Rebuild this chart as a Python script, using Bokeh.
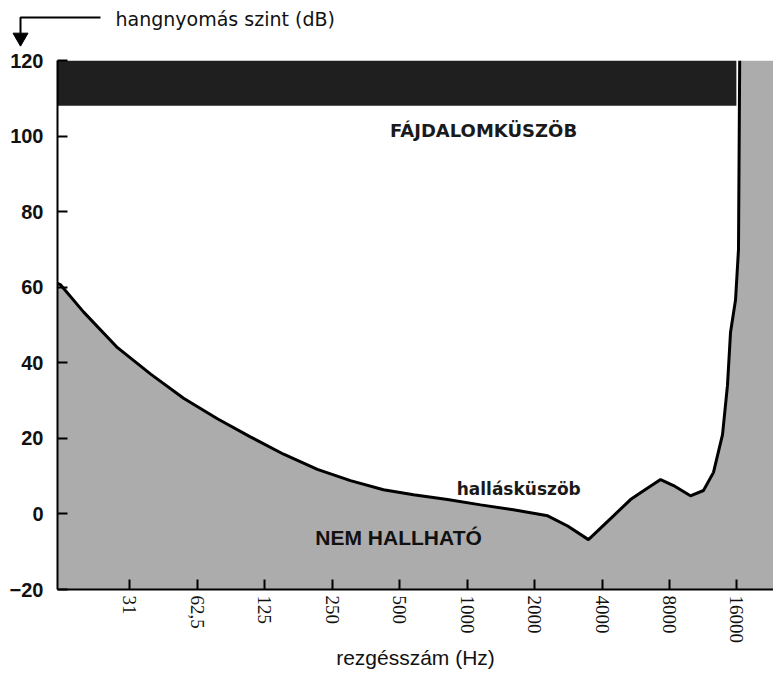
from bokeh.plotting import figure
from bokeh.layouts import column, row
from bokeh.models import FixedTicker, Label, Range1d
from bokeh.core.properties import value
from bokeh.embed import file_html
from bokeh.resources import INLINE

# ---- data ----
freq_hz = [14.9, 15.4, 19.5, 27.6, 38.8, 54.4, 77, 108, 152, 215, 302, 424, 577, 818,
           1150, 1610, 2290, 2810, 3480, 4500, 5360, 5940, 7300, 8340, 9920, 11340,
           12570, 13790, 14510, 14970, 15760, 16250, 16450]
threshold_db = [61, 60.6, 53.4, 44, 37, 30.6, 25.2, 20.4, 15.8, 11.8, 8.8, 6.4, 5.1, 3.8,
                2.4, 1.1, -0.5, -3.2, -6.8, -0.5, 3.8, 5.6, 9.1, 7.5, 4.8, 6.2,
                11, 21, 34, 48, 56.6, 70, 120]
pain_low_db = 108
pain_high_db = 120
pain_end_hz = 15900
tick_hz = [31.25, 62.5, 125, 250, 500, 1000, 2000, 4000, 8000, 16000]
tick_labels = ["31", "62,5", "125", "250", "500", "1000", "2000", "4000", "8000", "16000"]
y_ticks = [-20, 0, 20, 40, 60, 80, 100, 120]
x_min, x_max = 14.9, 23280
y_min, y_max = -20, 120
y_title = "hangnyomás szint (dB)"

# ---- header strip with the y-axis title and its bent arrow (pixel coordinates) ----
W, H_TOP = 773, 50
top = figure(width=W, height=H_TOP, x_range=Range1d(0, W), y_range=Range1d(H_TOP, 0),
             output_backend="svg", toolbar_location=None,
             x_axis_location=None, y_axis_location=None, min_border=0)
top.outline_line_color = None
top.xgrid.grid_line_color = None
top.ygrid.grid_line_color = None
arrow_x = [100, 20, 20]
arrow_y = [17, 17, 33]
top.line(arrow_x, arrow_y, line_color="black", line_width=2)
top.scatter([arrow_x[-1]], [arrow_y[-1] + 4], marker="inverted_triangle", size=15,
            fill_color="black", line_color="black")
top.text([115], [18], text=[y_title], text_baseline="middle",
         text_font=value("DejaVu Sans"), text_font_size="19px", text_color="#111111")

# ---- main chart ----
p = figure(frame_width=716, frame_height=529, x_axis_type="log",
           x_range=Range1d(x_min, x_max), y_range=Range1d(y_min, y_max),
           output_backend="svg", toolbar_location=None,
           min_border_left=57, min_border_right=0, min_border_top=10, min_border_bottom=0)
p.outline_line_color = None
p.xgrid.grid_line_color = None
p.ygrid.grid_line_color = None
p.background_fill_color = "white"
p.border_fill_color = "white"

# gray "not audible" region under the threshold curve
gx = [x_min] + freq_hz + [x_max, x_max]
gy = [y_min] + threshold_db + [y_max, y_min]
p.patch(gx, gy, fill_color="#acacac", line_color=None)

# pain threshold band
p.quad(left=[x_min], right=[pain_end_hz], bottom=[pain_low_db], top=[pain_high_db],
       fill_color="#1f1f1f", line_color=None)

# threshold curve
p.line(freq_hz, threshold_db, line_color="black", line_width=3)

# axes
p.xaxis.ticker = FixedTicker(ticks=tick_hz)
p.xaxis.major_label_overrides = {v: s for v, s in zip(tick_hz, tick_labels)}
p.xaxis.major_label_orientation = "vertical"
p.xaxis.major_label_text_font = "Liberation Sans Narrow"
p.xaxis.major_label_text_font_size = "19px"
p.xaxis.major_label_text_color = "#111111"
p.xaxis.major_label_standoff = 6
p.xaxis.axis_label = "rezgésszám (Hz)"
p.xaxis.axis_label_text_font = "Liberation Sans"
p.xaxis.axis_label_text_font_style = "normal"
p.xaxis.axis_label_text_font_size = "21px"
p.xaxis.axis_label_text_color = "#111111"
p.xaxis.axis_label_standoff = 0

p.yaxis.ticker = FixedTicker(ticks=y_ticks)
p.yaxis.major_label_text_font = "Liberation Sans"
p.yaxis.major_label_text_font_style = "bold"
p.yaxis.major_label_text_font_size = "20px"
p.yaxis.major_label_text_color = "#111111"
p.yaxis.major_label_standoff = 14

for ax in (p.xaxis[0], p.yaxis[0]):
    ax.axis_line_color = "black"
    ax.axis_line_width = 2
    ax.major_tick_line_color = "black"
    ax.major_tick_line_width = 2
    ax.major_tick_in = 10
    ax.major_tick_out = 0
    ax.minor_tick_line_color = None

# texts
p.add_layout(Label(x=1185, y=101.6, text="FÁJDALOMKÜSZÖB", text_align="center",
                   text_baseline="middle", text_font="DejaVu Sans", text_font_style="bold",
                   text_font_size="18px", text_color="#1a1a1a"))
p.add_layout(Label(x=1700, y=6.6, text="hallásküszöb", text_align="center",
                   text_baseline="middle", text_font="DejaVu Sans", text_font_style="bold",
                   text_font_size="17px", text_color="#1a1a1a"))
p.add_layout(Label(x=495, y=-6.3, text="NEM HALLHATÓ", text_align="center",
                   text_baseline="middle", text_font="Liberation Sans", text_font_style="bold",
                   text_font_size="21px", text_color="#111111"))

layout = column(row(top, spacing=0), p, spacing=0)
open("out.html", "w").write(file_html(layout, INLINE))
